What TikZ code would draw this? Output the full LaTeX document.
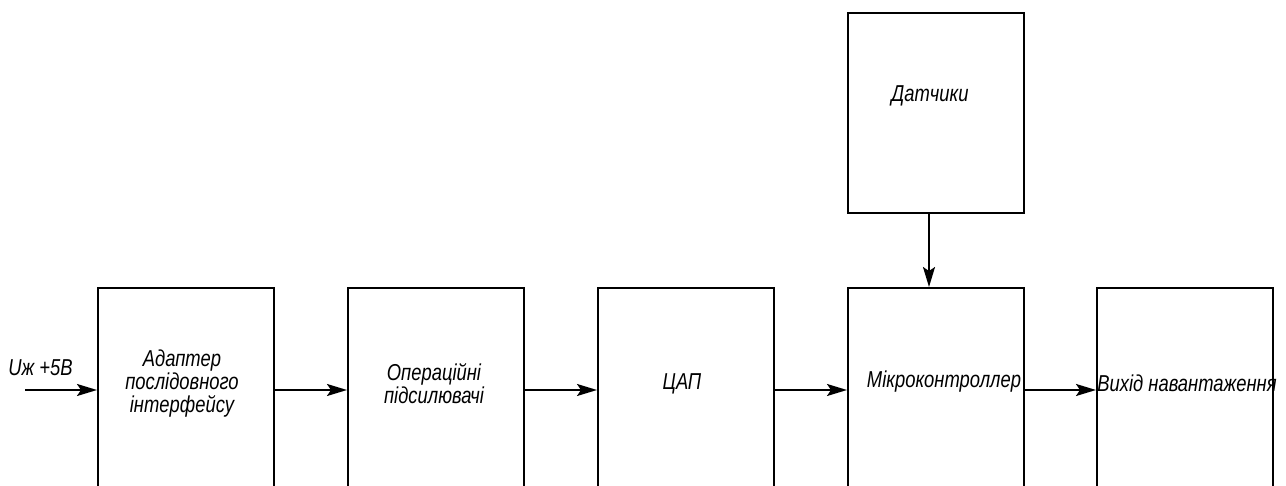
\documentclass[tikz,border=0pt]{standalone}
\usepackage{fontspec}
\setmainfont{Liberation Sans}[FakeStretch=0.8]
\usetikzlibrary{arrows.meta}

\begin{document}
\begin{tikzpicture}[x=0.5pt,y=-0.5pt,
    blk/.style={draw,line width=1pt,minimum width=88pt,minimum height=136pt,inner sep=0pt},
    lbl/.style={align=center,font=\fontsize{11.5}{11.5}\selectfont\itshape,inner sep=0pt},
    arr/.style={line width=1pt,-{Stealth[length=10pt,width=6pt,inset=2pt]}}]
  \newcommand{\rowy}{390}
  \useasboundingbox (0,0) rectangle (1286,486);
  \clip (0,0) rectangle (1286,486);

% blocks along the bottom row
  \node[blk] (adapt) at (186,424) {};
  \node[blk] (opamp) at (436,424) {};
  \node[blk] (dac)   at (686,424) {};
  \node[blk] (mcu)   at (936,424) {};
  \node[blk] (load)  at (1185,424) {};
  \node[blk,minimum height=100pt] (sens) at (936,113) {};

% labels
  \node[lbl] (adaptt) at (182,384) {Адаптер\\послідовного\\інтерфейсу};
  \node[lbl] (opampt) at (434,384) {Операційні\\підсилювачі};
  \node[lbl] (dact)   at (682,384) {ЦАП};
  \node[lbl] (mcut)   at (944,382) {Мікроконтроллер};
  \node[lbl] (loadt)  at (1187,383) {Вихід навантаження};
  \node[lbl] (senst)  at (930,96) {Датчики};
  \node[lbl,anchor=south west] (pwr) at (8,376) {Uж +5В};

% connectors
  \coordinate (row) at (0,\rowy);
  \coordinate (in) at (25,\rowy);
  \draw[arr] (in) -- (adapt.west |- row);
  \draw[arr] (adapt.east |- row) -- (opamp.west |- row);
  \draw[arr] (opamp.east |- row) -- (dac.west |- row);
  \draw[arr] (dac.east |- row) -- (mcu.west |- row);
  \draw[arr] (mcu.east |- row) -- (load.west |- row);
  \draw[arr] ([xshift=-3.5pt]sens.south) -- ([xshift=-3.5pt]mcu.north);
\end{tikzpicture}
\end{document}
